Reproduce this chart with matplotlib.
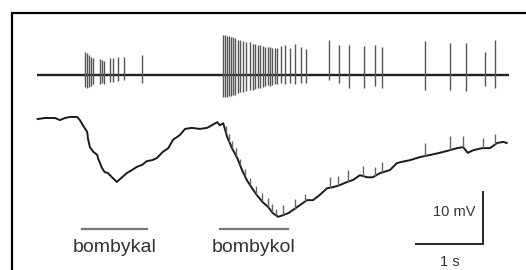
import numpy as np
import matplotlib.pyplot as plt
from matplotlib.patches import Rectangle

plt.rcParams['font.family'] = ['Liberation Sans', 'DejaVu Sans']

# slow membrane potential (lower trace), time in s, mV relative to rest
slow_t = [0.01, 0.12, 0.19, 0.27, 0.34, 0.42, 0.49, 0.60, 0.64, 0.69, 0.75, 0.76,
          0.79, 0.84, 0.90, 0.91, 0.97, 1.01, 1.06, 1.12, 1.16, 1.19, 1.27, 1.34,
          1.42, 1.49, 1.57, 1.64, 1.72, 1.79, 1.88, 1.96, 2.03, 2.13, 2.21, 2.31,
          2.43, 2.54, 2.61, 2.69, 2.73, 2.78, 2.84, 2.91, 2.99, 3.06, 3.13, 3.21,
          3.28, 3.37, 3.45, 3.52, 3.60, 3.67, 3.75, 3.82, 3.93, 4.03, 4.12, 4.22,
          4.33, 4.42, 4.52, 4.63, 4.72, 4.82, 4.93, 5.01, 5.12, 5.27, 5.37, 5.42,
          5.57, 5.72, 5.87, 6.01, 6.16, 6.27, 6.36, 6.43, 6.51, 6.64, 6.76, 6.87,
          6.96, 7.01]
slow_mv = [-0.2, 0.0, 0.0, 0.0, -0.4, 0.0, 0.2, 0.2, -0.4, -1.5, -2.7, -3.9,
           -5.6, -6.5, -7.1, -7.7, -9.6, -10.4, -10.6, -11.4, -11.9, -12.3, -11.4, -10.6,
           -10.0, -9.4, -9.0, -8.3, -8.1, -7.7, -6.5, -5.8, -4.2, -3.3, -2.1, -1.9,
           -2.1, -1.9, -1.4, -0.8, -1.4, -1.0, -3.7, -5.8, -7.7, -10.0, -11.9, -13.5,
           -14.8, -16.2, -17.1, -18.3, -19.0, -18.7, -18.3, -17.7, -16.7, -15.8, -15.8, -14.8,
           -13.5, -13.3, -12.9, -12.3, -11.9, -11.0, -11.4, -11.4, -10.6, -10.0, -8.7, -8.5,
           -8.1, -7.5, -7.1, -6.7, -6.2, -5.8, -5.6, -6.7, -6.2, -5.8, -5.8, -4.8,
           -4.6, -4.8]

# spikes riding on the slow potential: time (s), amplitude (mV)
psp_t = [2.82, 2.87, 2.91, 2.97, 3.03, 3.10, 3.18, 3.27, 3.36, 3.45, 3.51, 3.57,
         3.67, 3.85, 4.00, 4.37, 4.49, 4.64, 4.87, 5.05, 5.15, 5.79, 6.16, 6.36,
         6.66, 6.84]
psp_amp = [1.2, 1.5, 1.3, 1.5, 1.2, 1.3, 1.3, 1.5, 1.7, 1.7, 1.5, 1.3,
           1.9, 1.9, 1.5, 2.1, 1.9, 2.3, 1.9, 1.7, 2.1, 2.5, 2.7, 2.1,
           1.9, 1.9]

# extracellular spikes (upper trace): time (s), peak up / trough down
spike_t = [0.716, 0.746, 0.776, 0.806, 0.836, 0.940, 0.970, 1.000, 1.090, 1.134,
           1.209, 1.299, 1.567,
           2.776, 2.806, 2.836, 2.866, 2.896, 2.925, 2.955, 3.000, 3.030, 3.075,
           3.119, 3.179, 3.224, 3.254, 3.299, 3.328, 3.373, 3.403, 3.448, 3.478,
           3.507, 3.552, 3.582, 3.642, 3.701, 3.776, 3.851, 3.940, 4.015,
           4.358, 4.507, 4.657, 4.881, 5.045, 5.149, 5.791, 6.164, 6.403, 6.687, 6.836]
spike_up = [4.4, 4.2, 3.8, 3.5, 3.3, 3.1, 2.9, 2.7, 3.3, 3.3,
            3.5, 3.5, 3.8,
            7.7, 7.7, 7.5, 7.5, 7.3, 7.3, 7.1, 6.7, 6.7, 6.5,
            6.3, 6.3, 6.0, 6.0, 5.8, 5.8, 5.6, 5.4, 5.4, 5.4,
            5.2, 5.2, 5.2, 5.6, 5.8, 5.2, 6.0, 5.4, 5.0,
            6.7, 5.8, 5.8, 5.6, 5.8, 5.4, 6.5, 6.2, 6.2, 4.4, 6.7]
spike_down = [-2.3, -2.5, -2.3, -2.1, -1.7, -1.7, -1.5, -1.7, -1.3, -1.3,
              -1.2, -1.0, -1.5,
              -4.2, -4.2, -4.2, -4.0, -4.0, -3.8, -3.8, -3.5, -3.3, -3.3,
              -3.1, -2.9, -2.9, -2.7, -2.5, -2.5, -2.3, -2.1, -1.9, -2.1,
              -1.9, -1.7, -1.7, -1.5, -1.7, -1.5, -1.7, -1.5, -1.5,
              -1.0, -1.5, -2.5, -2.5, -2.1, -2.5, -2.9, -2.9, -3.1, -2.1, -2.5]

top_offset = 8.3
trace_end = 7.04

stim_labels = ['bombykal', 'bombykol']
stim_start = [0.672, 2.731]
stim_stop = [1.642, 3.746]

fig = plt.figure(figsize=(5.26, 2.70), dpi=100)
ax = fig.add_axes([0, 0, 1, 1])
ax.set_xlim(-0.552, 7.299)
ax.set_ylim(-29.23, 22.69)
ax.axis('off')

# frame (cut by the image edge on right and bottom)
ax.add_patch(Rectangle((0.0228, -0.2), 1.2, 1.1519, transform=ax.transAxes,
                       fill=False, lw=1.6, ec='black'))

# upper trace
ax.hlines(top_offset, 0, trace_end, color='#222222', lw=1.7)
ax.vlines(spike_t, top_offset + np.array(spike_down), top_offset + np.array(spike_up),
          color='#555555', lw=1.0)

# lower trace
ax.plot(slow_t, slow_mv, color='#1a1a1a', lw=1.4)
base = np.interp(psp_t, slow_t, slow_mv)
ax.vlines(psp_t, base, base + np.array(psp_amp), color='#666666', lw=1.0)

# stimulus bars
for lab, a, b in zip(stim_labels, stim_start, stim_stop):
    ax.plot([a, b], [-21.3, -21.3], color='#777777', lw=1.6)
    ax.text((a + b) / 2, -24.9, lab, ha='center', va='center', fontsize=14, color='#333333')

# scale bar
ax.plot([5.657, 6.657, 6.657], [-24.2, -24.2, -14.2], color='#222222', lw=1.4)
ax.text(6.54, -18.1, '10 mV', ha='right', va='center', fontsize=10.5, color='#333333')
ax.text(6.16, -27.7, '1 s', ha='center', va='center', fontsize=10.5, color='#333333')

fig.savefig('out.png', dpi=100)
